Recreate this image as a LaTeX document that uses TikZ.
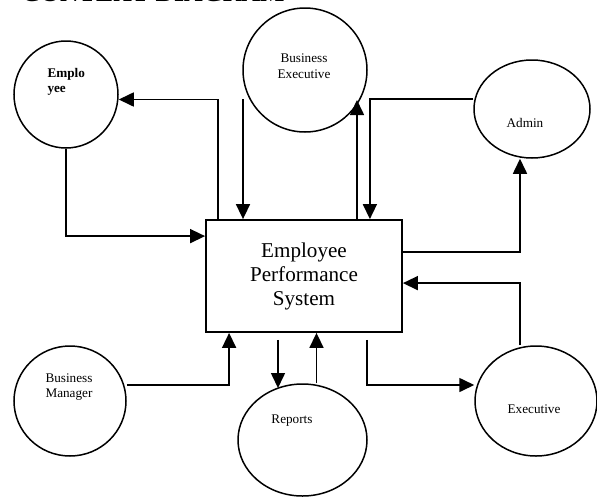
\documentclass[tikz,border=0pt]{standalone}
\usepackage{fontspec}
\setmainfont{Liberation Serif}
\usetikzlibrary{positioning,arrows.meta,shapes.geometric}

\begin{document}
\begin{tikzpicture}[x=1pt,y=-1pt,
		party/.style={draw, ellipse, line width=1.5pt, inner sep=0pt},
		sysbox/.style={draw, rectangle, line width=1.8pt, minimum width=196pt, minimum height=112pt},
		flow/.style={line width=1.6pt, -{Triangle[length=15pt,width=14pt]}},
		small/.style={font=\fontsize{13.2}{15.5}\selectfont, align=center},
	]
		\useasboundingbox (0,0) rectangle (597,496);
		\node[anchor=base west, font=\bfseries\fontsize{25.8}{30}\selectfont] (title) at (18,1) {CONTEXT DIAGRAM};
		% entities
		\node[party, minimum width=104pt, minimum height=107pt] (emp) at (66,94.5) {};
		\node[party, minimum width=124pt, minimum height=124pt] (bexec) at (305,70) {};
		\node[party, minimum width=116pt, minimum height=98pt] (admin) at (532,109) {};
		\node[party, minimum width=112pt, minimum height=110pt] (bman) at (70,401) {};
		\node[party, minimum width=129pt, minimum height=112pt] (reports) at (302.5,440) {};
		\node[party, minimum width=122pt, minimum height=110pt] (exec) at (536,401) {};
		\node[small, anchor=west, align=left, font=\bfseries\fontsize{13.2}{15.5}\selectfont] (emptxt) at (44,82) {Emplo\\yee};
		\node[small] (bexectxt) at (304,66) {Business\\Executive};
		\node[small, anchor=base] (admintxt) at (525,127) {Admin};
		\node[small] (bmantxt) at (69,387) {Business\\Manager};
		\node[small, anchor=base] (reptxt) at (292,423) {Reports};
		\node[small, anchor=base] (exectxt) at (534,413) {Executive};
		% system
		\node[sysbox, align=center, font=\fontsize{21.1}{24}\selectfont] (box) at (304,276) {Employee\\Performance\\System};
		\coordinate (be1) at (243,99);
		\coordinate (be2) at (357,100);
		\coordinate (rp1) at (278,388);
		% flows
		\draw[flow] ([xshift=13pt]box.north west) |- ([yshift=-5pt]emp.east);
		\draw[flow] (emp.south) |- ([yshift=-17pt]box.north west);
		\draw[flow] (be1) -- (be1 |- box.north);
		\draw[flow] (be2 |- box.north) -- (be2);
		\draw[flow] ([yshift=10pt]admin.west) -| ([xshift=-33pt]box.north east);
		\draw[flow] ([yshift=-33pt]box.north east) -| ([xshift=-12pt]admin.south);
		\draw[flow] ([xshift=-16pt]exec.north) |- ([yshift=-64pt]box.north east);
		\draw[flow] ([xshift=-36pt,yshift=-7pt]box.south east) |- ([yshift=16pt]exec.west);
		\draw[flow] ([yshift=-7pt]rp1 |- box.south) -- (rp1);
		\draw[flow] ([xshift=14pt]reports.north) -- ([xshift=14pt]reports.north |- box.south);
		\draw[flow] ([yshift=16pt]bman.east) -| ([xshift=24pt]box.south west);
\end{tikzpicture}
\end{document}
